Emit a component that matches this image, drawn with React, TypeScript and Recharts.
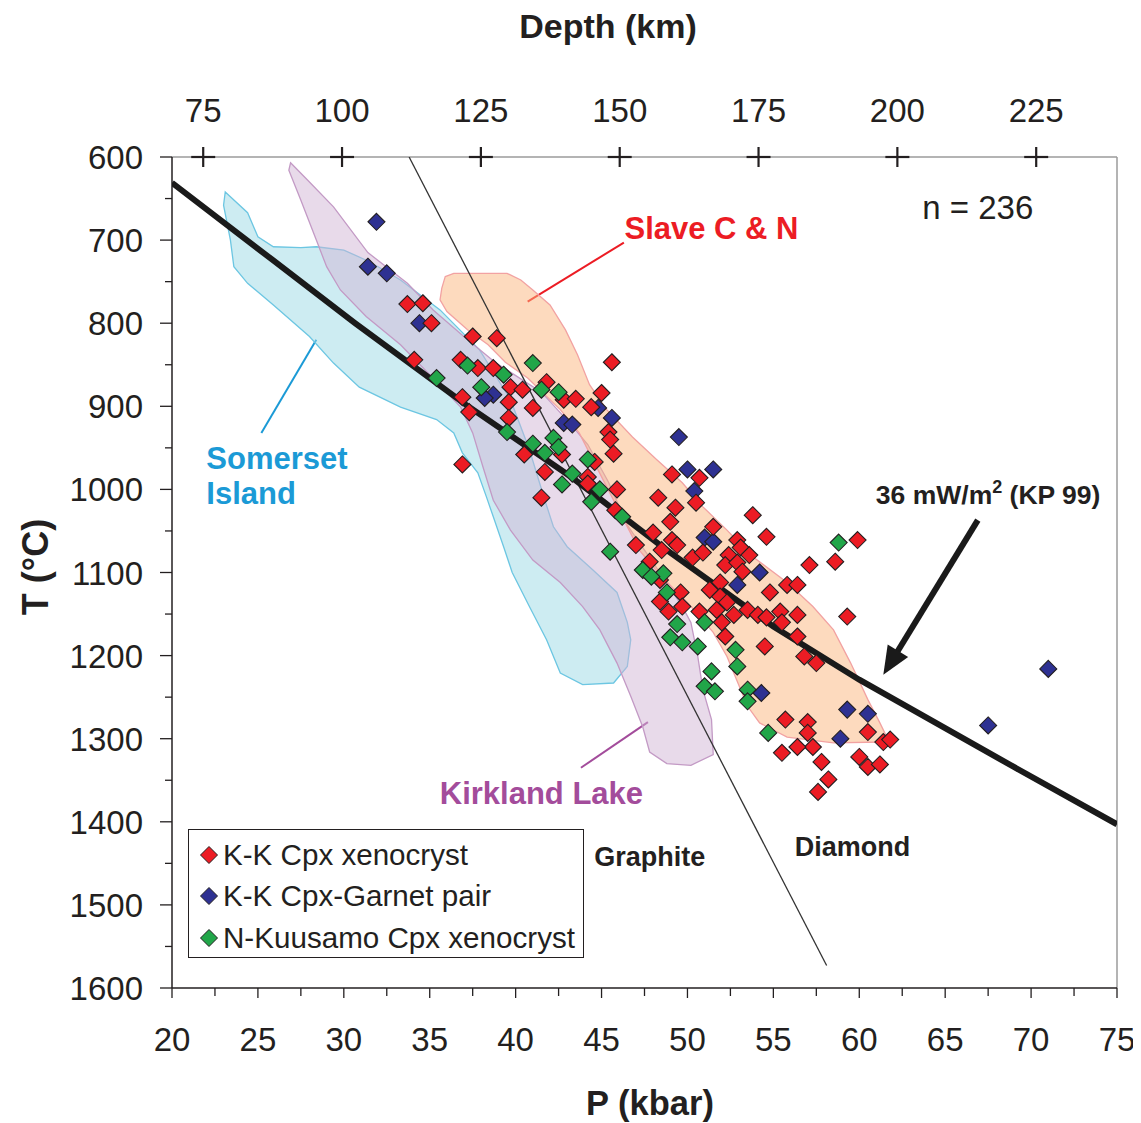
import React from 'react';
import {
  ComposedChart,
  Legend,
  ReferenceDot,
  ReferenceLine,
  Scatter,
  XAxis,
  YAxis
} from 'recharts';

const FONT = '"Liberation Sans", Arial, Helvetica, sans-serif';
const INK = '#231f20';
const GRAY = '#9b9b9b';

type PT = { p: number; t: number };

// K-K Cpx xenocryst
const kkCpx: PT[] = [
  { p: 33.7, t: 777 }, { p: 34.6, t: 776 }, { p: 35.1, t: 800 }, { p: 37.5, t: 816 },
  { p: 38.9, t: 818 }, { p: 34.1, t: 844 }, { p: 36.8, t: 844 }, { p: 37.8, t: 854 },
  { p: 38.7, t: 854 }, { p: 39.7, t: 877 }, { p: 40.4, t: 880 }, { p: 41.8, t: 871 },
  { p: 42.8, t: 892 }, { p: 43.5, t: 891 }, { p: 45.0, t: 884 }, { p: 44.4, t: 901 },
  { p: 45.6, t: 847 }, { p: 36.9, t: 889 }, { p: 37.3, t: 907 }, { p: 39.6, t: 895 },
  { p: 41.0, t: 902 }, { p: 39.6, t: 914 }, { p: 45.4, t: 931 }, { p: 45.5, t: 940 },
  { p: 45.7, t: 957 }, { p: 40.5, t: 958 }, { p: 36.9, t: 970 }, { p: 41.7, t: 979 },
  { p: 42.7, t: 958 }, { p: 44.2, t: 985 }, { p: 44.6, t: 967 }, { p: 41.5, t: 1010 },
  { p: 44.2, t: 993 }, { p: 45.9, t: 1000 }, { p: 45.8, t: 1025 }, { p: 49.1, t: 982 },
  { p: 50.7, t: 986 }, { p: 48.3, t: 1010 }, { p: 50.5, t: 1016 }, { p: 49.3, t: 1022 },
  { p: 49.0, t: 1039 }, { p: 51.5, t: 1045 }, { p: 53.8, t: 1031 }, { p: 54.6, t: 1057 },
  { p: 59.9, t: 1061 }, { p: 48.0, t: 1052 }, { p: 47.0, t: 1067 }, { p: 48.5, t: 1073 },
  { p: 49.1, t: 1061 }, { p: 49.4, t: 1067 }, { p: 50.3, t: 1082 }, { p: 50.9, t: 1076 },
  { p: 52.9, t: 1061 }, { p: 53.1, t: 1070 }, { p: 52.4, t: 1079 }, { p: 53.6, t: 1079 },
  { p: 52.2, t: 1091 }, { p: 52.9, t: 1088 }, { p: 53.2, t: 1099 }, { p: 57.1, t: 1091 },
  { p: 58.6, t: 1087 }, { p: 47.8, t: 1087 }, { p: 48.4, t: 1109 }, { p: 51.9, t: 1112 },
  { p: 51.3, t: 1121 }, { p: 54.8, t: 1124 }, { p: 55.8, t: 1115 }, { p: 56.4, t: 1115 },
  { p: 51.9, t: 1129 }, { p: 52.3, t: 1136 }, { p: 49.6, t: 1124 }, { p: 48.4, t: 1135 },
  { p: 49.7, t: 1141 }, { p: 50.7, t: 1147 }, { p: 51.7, t: 1145 }, { p: 52.7, t: 1151 },
  { p: 53.5, t: 1145 }, { p: 54.1, t: 1151 }, { p: 54.6, t: 1154 }, { p: 55.4, t: 1147 },
  { p: 56.4, t: 1151 }, { p: 59.3, t: 1153 }, { p: 48.9, t: 1147 }, { p: 52.0, t: 1160 },
  { p: 52.2, t: 1177 }, { p: 55.5, t: 1160 }, { p: 56.4, t: 1177 }, { p: 54.5, t: 1189 },
  { p: 56.8, t: 1201 }, { p: 57.5, t: 1209 }, { p: 55.7, t: 1277 }, { p: 57.0, t: 1280 },
  { p: 57.0, t: 1293 }, { p: 57.3, t: 1310 }, { p: 56.4, t: 1310 }, { p: 55.5, t: 1317 },
  { p: 57.8, t: 1328 }, { p: 58.2, t: 1349 }, { p: 57.6, t: 1364 }, { p: 60.5, t: 1292 },
  { p: 61.4, t: 1304 }, { p: 61.8, t: 1301 }, { p: 60.0, t: 1322 }, { p: 60.5, t: 1334 },
  { p: 61.2, t: 1331 }
];

// K-K Cpx-Garnet pair
const kkPair: PT[] = [
  { p: 31.9, t: 678 }, { p: 31.4, t: 732 }, { p: 32.5, t: 740 }, { p: 34.4, t: 800 },
  { p: 38.7, t: 886 }, { p: 38.2, t: 890 }, { p: 44.8, t: 902 }, { p: 45.6, t: 914 },
  { p: 42.8, t: 920 }, { p: 43.3, t: 922 }, { p: 49.5, t: 937 }, { p: 50.0, t: 976 },
  { p: 51.5, t: 976 }, { p: 50.4, t: 1002 }, { p: 51.0, t: 1058 }, { p: 51.5, t: 1063 },
  { p: 54.2, t: 1100 }, { p: 52.9, t: 1115 }, { p: 54.3, t: 1245 }, { p: 59.3, t: 1265 },
  { p: 60.5, t: 1270 }, { p: 58.9, t: 1300 }, { p: 71.0, t: 1216 }, { p: 67.5, t: 1284 }
];

// N-Kuusamo Cpx xenocryst
const kuusamo: PT[] = [
  { p: 35.4, t: 866 }, { p: 37.2, t: 851 }, { p: 38.0, t: 877 }, { p: 39.3, t: 862 },
  { p: 41.0, t: 848 }, { p: 41.5, t: 880 }, { p: 42.5, t: 883 }, { p: 39.5, t: 931 },
  { p: 41.0, t: 945 }, { p: 41.7, t: 956 }, { p: 42.2, t: 938 }, { p: 42.5, t: 949 },
  { p: 44.2, t: 964 }, { p: 43.3, t: 981 }, { p: 42.7, t: 994 }, { p: 44.9, t: 1000 },
  { p: 44.4, t: 1015 }, { p: 46.2, t: 1033 }, { p: 45.5, t: 1075 }, { p: 47.4, t: 1097 },
  { p: 48.6, t: 1101 }, { p: 47.9, t: 1105 }, { p: 48.8, t: 1124 }, { p: 49.4, t: 1162 },
  { p: 51.0, t: 1160 }, { p: 49.0, t: 1178 }, { p: 49.7, t: 1184 }, { p: 50.6, t: 1189 },
  { p: 52.8, t: 1193 }, { p: 52.9, t: 1213 }, { p: 51.4, t: 1219 }, { p: 51.0, t: 1237 },
  { p: 51.6, t: 1243 }, { p: 53.5, t: 1241 }, { p: 53.5, t: 1255 }, { p: 54.7, t: 1293 },
  { p: 58.8, t: 1064 }
];

// 36 mW/m2 geotherm (KP 99)
const geotherm: PT[] = [
  { p: 20, t: 631 }, { p: 25.8, t: 723 }, { p: 30.65, t: 800 }, { p: 37.1, t: 898 },
  { p: 43.3, t: 986 }, { p: 48.6, t: 1070 }, { p: 55.0, t: 1165 }, { p: 60.0, t: 1229 },
  { p: 69.0, t: 1334 }, { p: 75, t: 1403 }
];

// graphite / diamond boundary
const graphiteDiamond: PT[] = [
  { p: 33.8, t: 600 }, { p: 58.1, t: 1573 }
];

const somerset: PT[] = [
  { p: 23.1, t: 642 }, { p: 24.4, t: 667 }, { p: 25.0, t: 696 }, { p: 25.9, t: 708 },
  { p: 27.5, t: 709 }, { p: 28.4, t: 708 }, { p: 30.0, t: 712 }, { p: 31.5, t: 726 },
  { p: 33.3, t: 748 }, { p: 35.6, t: 784 }, { p: 37.9, t: 832 }, { p: 39.7, t: 892 },
  { p: 40.8, t: 952 }, { p: 41.7, t: 1013 }, { p: 42.2, t: 1045 }, { p: 43.0, t: 1069 },
  { p: 44.5, t: 1097 }, { p: 45.9, t: 1124 }, { p: 46.5, t: 1160 }, { p: 46.7, t: 1181 },
  { p: 46.5, t: 1213 }, { p: 45.7, t: 1233 }, { p: 43.9, t: 1235 }, { p: 42.6, t: 1221 },
  { p: 41.8, t: 1181 }, { p: 40.8, t: 1141 }, { p: 39.8, t: 1100 }, { p: 39.3, t: 1069 },
  { p: 38.7, t: 1033 }, { p: 38.3, t: 1009 }, { p: 37.8, t: 980 }, { p: 36.9, t: 956 },
  { p: 36.4, t: 932 }, { p: 35.4, t: 916 }, { p: 33.3, t: 901 }, { p: 30.9, t: 877 },
  { p: 29.4, t: 848 }, { p: 28.0, t: 816 }, { p: 25.9, t: 778 }, { p: 24.4, t: 752 },
  { p: 23.6, t: 732 }, { p: 23.4, t: 700 }, { p: 23.0, t: 658 }
];

const kirkland: PT[] = [
  { p: 26.9, t: 607 }, { p: 27.9, t: 628 }, { p: 29.4, t: 660 }, { p: 31.4, t: 715 },
  { p: 33.7, t: 752 }, { p: 35.2, t: 784 }, { p: 37.1, t: 818 }, { p: 38.8, t: 847 },
  { p: 41.5, t: 883 }, { p: 43.1, t: 919 }, { p: 44.2, t: 946 }, { p: 45.4, t: 991 },
  { p: 46.5, t: 1043 }, { p: 48.1, t: 1091 }, { p: 49.7, t: 1141 }, { p: 50.2, t: 1160 },
  { p: 50.6, t: 1201 }, { p: 50.9, t: 1241 }, { p: 51.4, t: 1277 }, { p: 51.5, t: 1319 },
  { p: 50.2, t: 1332 }, { p: 48.8, t: 1330 }, { p: 47.8, t: 1316 }, { p: 47.4, t: 1286 },
  { p: 46.7, t: 1249 }, { p: 45.9, t: 1209 }, { p: 44.9, t: 1169 }, { p: 43.9, t: 1141 },
  { p: 42.6, t: 1112 }, { p: 41.0, t: 1085 }, { p: 39.7, t: 1049 }, { p: 38.7, t: 1013 },
  { p: 38.1, t: 973 }, { p: 37.5, t: 932 }, { p: 36.8, t: 901 }, { p: 35.0, t: 862 },
  { p: 33.3, t: 826 }, { p: 31.3, t: 792 }, { p: 29.8, t: 760 }, { p: 29.0, t: 732 },
  { p: 28.4, t: 700 }, { p: 27.5, t: 652 }, { p: 26.8, t: 616 }
];

const slave: PT[] = [
  { p: 35.9, t: 744 }, { p: 36.4, t: 740 }, { p: 39.5, t: 740 }, { p: 40.3, t: 748 },
  { p: 41.0, t: 760 }, { p: 42.0, t: 778 }, { p: 42.9, t: 808 }, { p: 43.6, t: 838 },
  { p: 44.3, t: 874 }, { p: 45.3, t: 904 }, { p: 46.8, t: 937 }, { p: 48.2, t: 964 },
  { p: 49.7, t: 992 }, { p: 50.9, t: 1021 }, { p: 52.3, t: 1049 }, { p: 53.8, t: 1081 },
  { p: 55.8, t: 1112 }, { p: 57.3, t: 1141 }, { p: 58.5, t: 1169 }, { p: 59.5, t: 1209 },
  { p: 60.5, t: 1253 }, { p: 61.2, t: 1281 }, { p: 61.6, t: 1298 }, { p: 61.4, t: 1304 },
  { p: 58.5, t: 1305 }, { p: 55.8, t: 1298 }, { p: 54.2, t: 1281 }, { p: 53.5, t: 1261 },
  { p: 53.1, t: 1241 }, { p: 52.3, t: 1201 }, { p: 51.5, t: 1172 }, { p: 50.7, t: 1153 },
  { p: 50.0, t: 1136 }, { p: 48.4, t: 1103 }, { p: 47.2, t: 1073 }, { p: 46.3, t: 1037 },
  { p: 45.3, t: 997 }, { p: 43.7, t: 932 }, { p: 42.6, t: 904 }, { p: 40.7, t: 866 },
  { p: 39.4, t: 847 }, { p: 38.4, t: 826 }, { p: 37.2, t: 808 }, { p: 36.0, t: 786 },
  { p: 35.6, t: 772 }, { p: 35.7, t: 758 }
];

const pTicks = [
  20, 22.5, 25, 27.5, 30, 32.5, 35, 37.5, 40, 42.5, 45, 47.5,
  50, 52.5, 55, 57.5, 60, 62.5, 65, 67.5, 70, 72.5, 75
];
const tTicks = [
  600, 650, 700, 750, 800, 850, 900, 950, 1000, 1050, 1100,
  1150, 1200, 1250, 1300, 1350, 1400, 1450, 1500, 1550, 1600
];
const depthTicks = [75, 100, 125, 150, 175, 200, 225];
// depth (km) -> P (kbar), as used for the upper scale
const depthToP = (d: number) => (d - 7.5) / 3.094;

const legendNames = ['K-K Cpx xenocryst', 'K-K Cpx-Garnet pair', 'N-Kuusamo Cpx xenocryst'];

const RED = '#ec1c24';
const BLUE = '#2e3192';
const GREEN = '#21a649';

const diamond = (color: string, r = 8.5) => (props: any) => {
  const { cx, cy } = props;
  if (cx == null || cy == null) return <g />;
  return (
    <polygon
      points={`${cx},${cy - r} ${cx + r},${cy} ${cx},${cy + r} ${cx - r},${cy}`}
      fill={color}
      stroke={INK}
      strokeWidth={1.1}
    />
  );
};

const noShape = () => <g />;

const areaOutline = (fill: string, stroke: string) => (lp: any) => {
  const pts: { x: number; y: number }[] = lp.points || [];
  if (!pts.length) return <g />;
  const d = pts.map((q, i) => `${i ? 'L' : 'M'}${q.x},${q.y}`).join(' ') + ' Z';
  return <path d={d} fill={fill} fillOpacity={0.5} stroke={stroke} strokeWidth={1.3} />;
};

function BottomTick(props: any) {
  const { x, y, payload } = props;
  const v = payload.value as number;
  const major = v % 5 === 0;
  return (
    <g>
      <line x1={x} x2={x} y1={y} y2={y + (major ? 10 : 8)} stroke={INK} strokeWidth={1.3} />
      {major && (
        <text x={x} y={y + 51} dy={12} textAnchor="middle" fontSize={33} fill={INK} fontFamily={FONT}>
          {v}
        </text>
      )}
    </g>
  );
}

function LeftTick(props: any) {
  const { x, y, payload } = props;
  const v = payload.value as number;
  const major = v % 100 === 0;
  return (
    <g>
      <line x1={x - (major ? 12 : 7)} x2={x} y1={y} y2={y} stroke={INK} strokeWidth={1.3} />
      {major && (
        <text x={x - 29} y={y} dy={12} textAnchor="end" fontSize={33} fill={INK} fontFamily={FONT}>
          {v}
        </text>
      )}
    </g>
  );
}

function TopTick(props: any) {
  const { x, y, index } = props;
  return (
    <g>
      <line x1={x - 12} x2={x + 12} y1={y} y2={y} stroke={INK} strokeWidth={2.2} />
      <line x1={x} x2={x} y1={y - 10} y2={y + 10} stroke={INK} strokeWidth={2.2} />
      <text x={x} y={y - 47} dy={12} textAnchor="middle" fontSize={33} fill={INK} fontFamily={FONT}>
        {depthTicks[index]}
      </text>
    </g>
  );
}

function AxisTitle(props: any) {
  const { viewBox, text, dx = 0, cy, rotate = false, size = 33 } = props;
  if (!viewBox) return null;
  if (rotate) {
    const x = viewBox.x + dx;
    const y = viewBox.y + viewBox.height / 2 + (cy || 0);
    return (
      <text
        x={x}
        y={y}
        dy={size * 0.36}
        transform={`rotate(-90, ${x}, ${y})`}
        textAnchor="middle"
        fontSize={size}
        fontWeight="bold"
        fill={INK}
        fontFamily={FONT}
      >
        {text}
      </text>
    );
  }
  const x = viewBox.x + viewBox.width / 2 + dx;
  const y = viewBox.y + cy;
  return (
    <text x={x} y={y} dy={size * 0.36} textAnchor="middle" fontSize={size} fontWeight="bold" fill={INK} fontFamily={FONT}>
      {text}
    </text>
  );
}

function Note(props: any) {
  const { viewBox, text, color = INK, size = 30, weight = 'bold', anchor = 'middle' } = props;
  if (!viewBox) return null;
  const x = viewBox.x + (viewBox.width || 0) / 2;
  const y = viewBox.y + (viewBox.height || 0) / 2;
  return (
    <text x={x} y={y} dy={size * 0.36} textAnchor={anchor} fill={color} fontSize={size} fontWeight={weight} fontFamily={FONT}>
      {text}
    </text>
  );
}

function FluxNote(props: any) {
  const { viewBox } = props;
  if (!viewBox) return null;
  const x = viewBox.x + (viewBox.width || 0) / 2;
  const y = viewBox.y + (viewBox.height || 0) / 2;
  return (
    <text x={x} y={y} dy={9.5} textAnchor="middle" fill={INK} fontSize={26.5} fontWeight="bold" fontFamily={FONT}>
      36 mW/m
      <tspan fontSize={18} dy={-11}>2</tspan>
      <tspan dy={11}> (KP 99)</tspan>
    </text>
  );
}

const arrowShape = (props: any) => {
  const { x1, y1, x2, y2 } = props;
  const dx = x2 - x1;
  const dy = y2 - y1;
  const len = Math.sqrt(dx * dx + dy * dy) || 1;
  const ux = dx / len;
  const uy = dy / len;
  const headLen = 28;
  const headHalf = 12;
  const bx = x2 - ux * headLen;
  const by = y2 - uy * headLen;
  return (
    <g>
      <line x1={x1} y1={y1} x2={bx + ux * 2} y2={by + uy * 2} stroke="#1a1a1a" strokeWidth={6} />
      <polygon
        points={`${x2},${y2} ${bx - uy * headHalf},${by + ux * headHalf} ${bx + uy * headHalf},${by - ux * headHalf}`}
        fill="#1a1a1a"
      />
    </g>
  );
};

function LegendBox(props: any) {
  const all = (props.payload || []) as any[];
  const items = legendNames
    .map((n) => all.find((it) => it.value === n))
    .filter(Boolean) as any[];
  return (
    <div
      style={{
        width: 396,
        height: 129,
        boxSizing: 'border-box',
        border: `1.3px solid ${INK}`,
        background: '#fff',
        paddingTop: 4,
        fontFamily: FONT,
        fontSize: 29.6,
        color: INK
      }}
    >
      {items.map((it) => (
        <div key={it.value} style={{ height: 41.5, display: 'flex', alignItems: 'center', whiteSpace: 'nowrap' }}>
          <svg width={34} height={20} style={{ flex: 'none' }}>
            <polygon points="20,1.5 28.5,10 20,18.5 11.5,10" fill={it.color} stroke={INK} strokeWidth={1} />
          </svg>
          <span>{it.value}</span>
        </div>
      ))}
    </div>
  );
}

export default function App() {
  return (
    <div style={{ width: 1133, height: 1115, background: '#fff' }}>
      <ComposedChart width={1133} height={1115} margin={{ top: 0, right: 24, bottom: 0, left: 0 }}>
        <XAxis
          xAxisId={0}
          dataKey="p"
          type="number"
          domain={[20, 75]}
          allowDataOverflow
          ticks={pTicks}
          interval={0}
          height={135}
          tickSize={0}
          tickMargin={0}
          tickLine={false}
          axisLine={{ stroke: INK, strokeWidth: 1.5 }}
          tick={<BottomTick />}
          label={<AxisTitle text="P (kbar)" dx={5.5} cy={115} size={34.5} />}
        />
        <XAxis
          xAxisId="top"
          orientation="top"
          dataKey="p"
          type="number"
          domain={[20, 75]}
          allowDataOverflow
          ticks={depthTicks.map(depthToP)}
          interval={0}
          height={149}
          tickSize={0}
          tickMargin={0}
          tickLine={false}
          axisLine={{ stroke: GRAY, strokeWidth: 1.5 }}
          tick={<TopTick />}
          label={<AxisTitle text="Depth (km)" dx={-36.5} cy={18} size={34} />}
        />
        <YAxis
          dataKey="t"
          type="number"
          domain={[600, 1600]}
          allowDataOverflow
          reversed
          ticks={tTicks}
          interval={0}
          width={164}
          tickSize={0}
          tickMargin={0}
          tickLine={false}
          axisLine={{ stroke: INK, strokeWidth: 1.5 }}
          tick={<LeftTick />}
          label={<AxisTitle text="T (°C)" rotate dx={27} cy={-5.5} size={36} />}
        />

        <Scatter
          name="Somerset Island"
          data={somerset}
          legendType="none"
          shape={noShape}
          line={areaOutline('#9bd9e5', '#6cc6e2')}
          isAnimationActive={false}
        />
        <Scatter
          name="Kirkland Lake"
          data={kirkland}
          legendType="none"
          shape={noShape}
          line={areaOutline('#d1b5d5', '#c39ac5')}
          isAnimationActive={false}
        />
        <Scatter
          name="Slave C & N"
          data={slave}
          legendType="none"
          shape={noShape}
          line={areaOutline('#fbb57d', '#f2a2a2')}
          isAnimationActive={false}
        />
        {/* depth scale rides on the graphite-diamond line so the top axis has data */}
        <Scatter
          name="graphite-diamond (depth)"
          xAxisId="top"
          data={graphiteDiamond}
          legendType="none"
          shape={noShape}
          isAnimationActive={false}
        />
        <Scatter
          name="graphite-diamond"
          data={graphiteDiamond}
          legendType="none"
          shape={noShape}
          line={{ stroke: '#333', strokeWidth: 1.3 }}
          isAnimationActive={false}
        />
        <Scatter
          name="36 mW/m2"
          data={geotherm}
          legendType="none"
          shape={noShape}
          line={{ stroke: '#1a1a1a', strokeWidth: 6 }}
          isAnimationActive={false}
        />

        <ReferenceLine x={75} stroke={GRAY} strokeWidth={1.5} />
        <ReferenceLine segment={[{ x: 40.7, y: 774 }, { x: 46.3, y: 703 }]} stroke={RED} strokeWidth={2} />
        <ReferenceLine segment={[{ x: 28.4, y: 820 }, { x: 25.2, y: 932 }]} stroke="#1b9ad6" strokeWidth={2} />
        <ReferenceLine segment={[{ x: 43.8, y: 1335 }, { x: 47.7, y: 1280 }]} stroke="#a34c9b" strokeWidth={2} />
        <ReferenceLine segment={[{ x: 66.9, y: 1037 }, { x: 61.4, y: 1223 }]} shape={arrowShape} />

        <Scatter name="K-K Cpx-Garnet pair" data={kkPair} fill={BLUE} shape={diamond(BLUE)} isAnimationActive={false} />
        <Scatter name="K-K Cpx xenocryst" data={kkCpx} fill={RED} shape={diamond(RED)} isAnimationActive={false} />
        <Scatter name="N-Kuusamo Cpx xenocryst" data={kuusamo} fill={GREEN} shape={diamond(GREEN)} isAnimationActive={false} />

        <ReferenceDot x={66.9} y={660} r={0} fill="none" stroke="none" label={<Note text="n = 236" size={33} weight="normal" />} />
        <ReferenceDot x={51.4} y={685} r={0} fill="none" stroke="none" label={<Note text="Slave C & N" color={RED} size={31} />} />
        <ReferenceDot x={22.0} y={962} r={0} fill="none" stroke="none" label={<Note text="Somerset" color="#1b9ad6" size={31} anchor="start" />} />
        <ReferenceDot x={22.0} y={1004} r={0} fill="none" stroke="none" label={<Note text="Island" color="#1b9ad6" size={31} anchor="start" />} />
        <ReferenceDot x={41.5} y={1365} r={0} fill="none" stroke="none" label={<Note text="Kirkland Lake" color="#a34c9b" size={31} />} />
        <ReferenceDot x={47.8} y={1442} r={0} fill="none" stroke="none" label={<Note text="Graphite" size={27} />} />
        <ReferenceDot x={59.6} y={1429} r={0} fill="none" stroke="none" label={<Note text="Diamond" size={27} />} />
        <ReferenceDot x={67.5} y={1006} r={0} fill="none" stroke="none" label={<FluxNote />} />

        <Legend
          layout="vertical"
          align="center"
          verticalAlign="middle"
          content={<LegendBox />}
          wrapperStyle={{ left: 180, top: 821, width: 396, height: 129 }}
        />
      </ComposedChart>
    </div>
  );
}
